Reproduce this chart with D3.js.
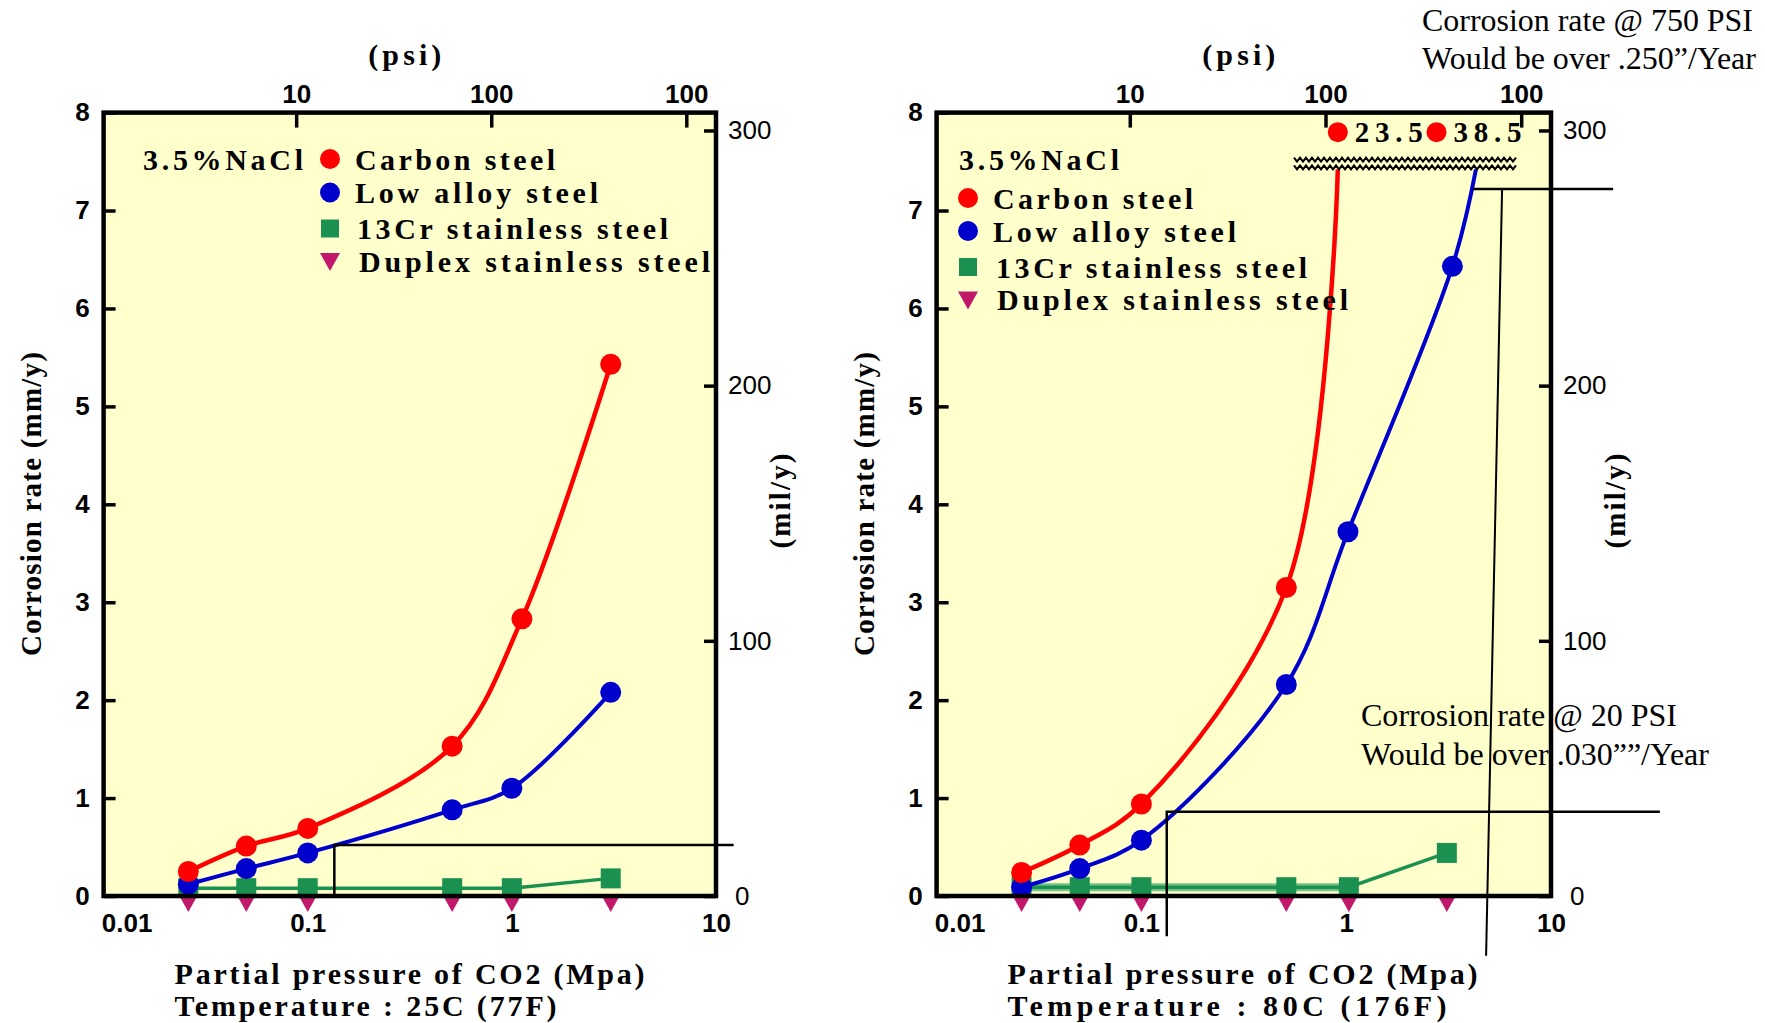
<!DOCTYPE html>
<html>
<head>
<meta charset="utf-8">
<script src="https://cdn.jsdelivr.net/npm/d3@7"></script>
<style>
  body { margin: 0; background: #fff; }
</style>
</head>
<body>
<div id="chart"></div>
<script>
// ---------- data ----------
var ticksMpa = [0.01, 0.1, 1, 10],
    ticksPsi = [10, 100, 1000],
    psiLabels = ["10", "100", "100"],
    ticksMm = [0, 1, 2, 3, 4, 5, 6, 7, 8],
    ticksMil = [0, 100, 200, 300];

var seriesNames = ["Carbon steel", "Low alloy steel", "13Cr stainless steel", "Duplex stainless steel"];

// 25C (77F)
var press25   = [0.026, 0.05, 0.1, 0.51, 1.0, 3.05];
var carbonX25 = [0.026, 0.05, 0.1, 0.51, 1.12, 3.05];
var carbon25  = [0.25, 0.51, 0.69, 1.53, 2.83, 5.43];
var lowAlloy25 = [0.12, 0.28, 0.44, 0.88, 1.10, 2.08];
var cr13_25   = [0.08, 0.08, 0.08, 0.08, 0.08, 0.18];
var duplex25  = [0, 0, 0, 0, 0, 0];

// 80C (176F) - carbon and low alloy run off the scale, last point is the line end at the break
var press80     = [0.026, 0.05, 0.1, 0.51, 1.03, 3.1];
var carbonX80   = [0.026, 0.05, 0.1, 0.51, 0.91];
var carbon80    = [0.24, 0.52, 0.94, 3.15, 7.42];
var lowAlloyX80 = [0.026, 0.05, 0.1, 0.51, 1.02, 3.3, 4.3];
var lowAlloy80  = [0.09, 0.28, 0.57, 2.16, 3.72, 6.43, 7.42];
var cr13_80     = [0.09, 0.09, 0.09, 0.09, 0.09, 0.44];
var duplex80    = [0, 0, 0, 0, 0, 0];
var offScaleX = [0.91, 2.76],
    offScaleLabels = ["23.5", "38.5"];

var colors = ["#ff0000", "#0000cc", "#1a9150", "#c2186c"];

// ---------- drawing ----------
var W = 1765, H = 1023;
var tickFont = "'Liberation Sans', Arial, sans-serif",
    pixFont = "'Liberation Serif', 'Times New Roman', serif";

var svg = d3.select("#chart").append("svg")
    .attr("width", W)
    .attr("height", H);

svg.append("rect").attr("width", W).attr("height", H).attr("fill", "#fff");

function label(g, str, x, y, size, width, opts) {
  opts = opts || {};
  var t = g.append("text")
      .attr("x", x)
      .attr("y", y)
      .attr("font-family", opts.family || pixFont)
      .attr("font-size", size)
      .attr("font-weight", opts.weight || "bold")
      .attr("dominant-baseline", "central")
      .attr("text-anchor", opts.anchor || "start")
      .text(str);
  if (width) t.attr("textLength", width).attr("lengthAdjust", opts.squeeze ? "spacingAndGlyphs" : "spacing");
  if (opts.rotate) t.attr("transform", "rotate(-90," + x + "," + y + ")");
  return t;
}

function drawPanel(p) {
  var x = d3.scaleLog().domain([0.01, 10]).range([p.left, p.right]),
      y = d3.scaleLinear().domain([0, 8]).range([p.bottom, p.top]),
      psi = d3.scaleLog().domain([1.03, 1420]).range([p.left, p.right]),
      mil = d3.scaleLinear().domain([0, 307]).range([p.bottom, p.top]);

  var g = svg.append("g");

  g.append("rect")
      .attr("x", p.left).attr("y", p.top)
      .attr("width", p.right - p.left).attr("height", p.bottom - p.top)
      .attr("fill", "#ffffcc");

  var line = d3.line()
      .x(function(d) { return x(d[0]); })
      .y(function(d) { return y(d[1]); })
      .curve(d3.curveCatmullRom.alpha(0.5));
  var straight = d3.line()
      .x(function(d) { return x(d[0]); })
      .y(function(d) { return y(d[1]); });

  // duplex: triangles hanging below the axis
  g.selectAll(".dup").data(d3.zip(p.press, p.duplex)).enter().append("path")
      .attr("d", function(d) {
        var cx = x(d[0]), cy = y(d[1]);
        return "M" + (cx - 10) + "," + (cy - 2) + "L" + (cx + 10) + "," + (cy - 2) + "L" + cx + "," + (cy + 16) + "Z";
      })
      .attr("fill", colors[3]);

  // 13Cr
  var cr = d3.zip(p.press, p.cr13);
  if (p.crBand) {
    g.append("path").datum(cr.slice(0, 5)).attr("d", straight)
        .attr("fill", "none").attr("stroke", "#72c486").attr("stroke-width", 8);
  }
  g.append("path").datum(cr).attr("d", straight)
      .attr("fill", "none").attr("stroke", colors[2]).attr("stroke-width", 3.5);
  g.selectAll(".cr").data(cr).enter().append("rect")
      .attr("x", function(d) { return x(d[0]) - 10; })
      .attr("y", function(d) { return y(d[1]) - 10; })
      .attr("width", 20).attr("height", 20)
      .attr("fill", colors[2]);

  // low alloy
  var la = d3.zip(p.lowAlloyX, p.lowAlloy);
  g.append("path").datum(la).attr("d", line)
      .attr("fill", "none").attr("stroke", colors[1]).attr("stroke-width", 4);
  g.selectAll(".la").data(la.slice(0, p.lowAlloyMarks)).enter().append("circle")
      .attr("cx", function(d) { return x(d[0]); })
      .attr("cy", function(d) { return y(d[1]); })
      .attr("r", 10.5)
      .attr("fill", colors[1]);

  // carbon
  var cs = d3.zip(p.carbonX, p.carbon);
  g.append("path").datum(cs).attr("d", line)
      .attr("fill", "none").attr("stroke", colors[0]).attr("stroke-width", 4.5);
  g.selectAll(".cs").data(cs.slice(0, p.carbonMarks)).enter().append("circle")
      .attr("cx", function(d) { return x(d[0]); })
      .attr("cy", function(d) { return y(d[1]); })
      .attr("r", 10.5)
      .attr("fill", colors[0]);

  // off-scale values and axis break
  if (p.offScale) {
    p.offScale.x.forEach(function(v, i) {
      g.append("circle").attr("cx", x(v)).attr("cy", y(7.8)).attr("r", 10).attr("fill", colors[0]);
      label(g, p.offScale.labels[i], x(v) + 17, y(7.8), 29, 68);
    });
    [7.52, 7.44].forEach(function(lv) {
      var x0 = x(0.556), x1 = x(6.75), yy = y(lv), pts = [], k = 0;
      for (var xx = x0; xx <= x1; xx += 3, k++) pts.push([xx, yy + (k % 2 ? 2 : -2)]);
      g.append("path").attr("d", d3.line()(pts))
          .attr("fill", "none").attr("stroke", "#000").attr("stroke-width", 2);
    });
  }

  // frame
  g.append("rect")
      .attr("x", p.left).attr("y", p.top)
      .attr("width", p.right - p.left).attr("height", p.bottom - p.top)
      .attr("fill", "none").attr("stroke", "#000").attr("stroke-width", 4.5);

  // axes
  function styleAxis(a, weight) {
    a.select(".domain").remove();
    a.selectAll("line").attr("stroke-width", 3.5);
    a.selectAll("text")
        .attr("font-family", tickFont)
        .attr("font-size", 26)
        .attr("font-weight", weight || "bold");
  }
  var ab = g.append("g").attr("transform", "translate(0," + p.bottom + ")")
      .call(d3.axisBottom(x).tickValues(ticksMpa).tickFormat(function(d) { return String(d); })
        .tickSize(0).tickPadding(18));
  styleAxis(ab);
  ab.selectAll("text").filter(function(d) { return d === 0.01; }).attr("dx", 23);

  var at = g.append("g").attr("transform", "translate(0," + p.top + ")")
      .call(d3.axisTop(psi).tickValues(ticksPsi).tickFormat(function(d, i) { return psiLabels[i]; })
        .tickSizeInner(-15).tickSizeOuter(0).tickPadding(10));
  styleAxis(at);

  var al = g.append("g").attr("transform", "translate(" + p.left + ",0)")
      .call(d3.axisLeft(y).tickValues(ticksMm).tickSizeInner(-12).tickSizeOuter(0).tickPadding(14));
  styleAxis(al);

  var ar = g.append("g").attr("transform", "translate(" + p.right + ",0)")
      .call(d3.axisRight(mil).tickValues(ticksMil).tickSizeInner(-12).tickSizeOuter(0).tickPadding(12));
  styleAxis(ar, "normal");
  ar.selectAll("text").filter(function(d) { return d === 0; }).attr("dx", 7);

  // axis titles
  label(g, "(psi)", (p.left + p.right) / 2 - 5, 54, 30, 73, {anchor: "middle"});
  label(g, "Corrosion rate (mm/y)", p.left - 73, 504, 29, 304, {anchor: "middle", rotate: true});
  label(g, "(mil/y)", p.right + 64, 501, 29, 95, {anchor: "middle", rotate: true});
  label(g, "Partial pressure of CO2 (Mpa)", p.left + 71, 973, 30, 470);
  label(g, p.temp, p.left + 71, 1005, 30, p.tempWidth);

  // legend
  var L = p.legend;
  label(g, "3.5%NaCl", L.titleX, L.titleY, 30, 160);
  seriesNames.forEach(function(name, i) {
    var cy = L.rows[i], mx = L.markerX;
    if (i < 2) g.append("circle").attr("cx", mx).attr("cy", cy).attr("r", 10).attr("fill", colors[i]);
    else if (i === 2) g.append("rect").attr("x", mx - 9).attr("y", cy - 9).attr("width", 18).attr("height", 18).attr("fill", colors[i]);
    else g.append("path").attr("d", "M" + (mx - 10) + "," + (cy - 8) + "L" + (mx + 10) + "," + (cy - 8) + "L" + mx + "," + (cy + 10) + "Z").attr("fill", colors[i]);
    label(g, name, L.textX[i], cy, 30, L.widths[i]);
  });

  // annotations
  (p.marks || []).forEach(function(m) {
    g.append("path")
        .attr("d", straight(m.pts))
        .attr("fill", "none").attr("stroke", "#000").attr("stroke-width", m.w);
  });
  (p.notes || []).forEach(function(n) {
    label(g, n.text, n.x, n.y, 31, n.width, {weight: "normal", squeeze: true});
  });
}

drawPanel({
  left: 103.6, right: 716, top: 112.6, bottom: 896,
  press: press25, duplex: duplex25, cr13: cr13_25,
  lowAlloyX: press25, lowAlloy: lowAlloy25, lowAlloyMarks: 6,
  carbonX: carbonX25, carbon: carbon25, carbonMarks: 6,
  temp: "Temperature : 25C (77F)", tempWidth: 382,
  legend: {titleX: 143, titleY: 159, markerX: 330, rows: [159, 192.5, 228.5, 261],
           textX: [355, 355, 357, 359], widths: [200, 243, 311, 351]},
  marks: [{pts: [[0.135, 0], [0.135, 0.52], [12.2, 0.52]], w: 2.5}]
});

drawPanel({
  left: 936.6, right: 1551, top: 112.6, bottom: 896,
  press: press80, duplex: duplex80, cr13: cr13_80, crBand: true,
  lowAlloyX: lowAlloyX80, lowAlloy: lowAlloy80, lowAlloyMarks: 6,
  carbonX: carbonX80, carbon: carbon80, carbonMarks: 4,
  offScale: {x: offScaleX, labels: offScaleLabels},
  temp: "Temperature : 80C (176F)", tempWidth: 439,
  legend: {titleX: 959, titleY: 159, markerX: 968, rows: [198, 231, 267, 299.5],
           textX: [993, 993, 996, 997], widths: [200, 243, 311, 351]},
  marks: [
    {pts: [[0.133, -0.41], [0.133, 0.86], [34, 0.86]], w: 2.5},
    {pts: [[4.16, 7.22], [20.1, 7.22]], w: 2.5},
    {pts: [[5.77, 7.22], [4.82, -0.61]], w: 2}
  ],
  notes: [
    {text: "Corrosion rate @ 750 PSI", x: 1422, y: 20, width: 331},
    {text: "Would be over .250\u201d/Year", x: 1422, y: 58, width: 334},
    {text: "Corrosion rate @ 20 PSI", x: 1361, y: 715, width: 316},
    {text: "Would be over .030\u201d\u201d/Year", x: 1361, y: 754, width: 348}
  ]
});
</script>
</body>
</html>
